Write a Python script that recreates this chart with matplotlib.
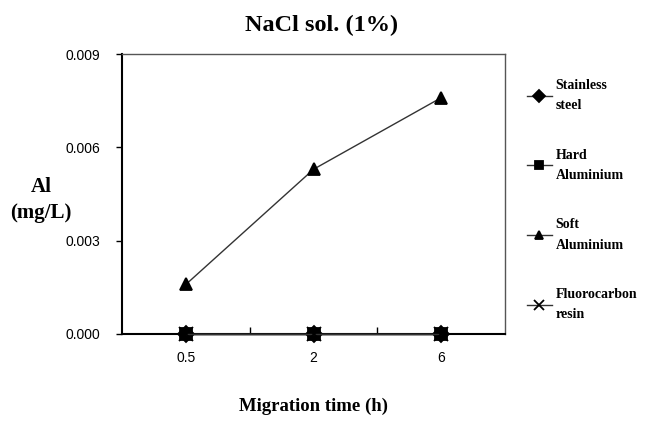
import matplotlib
matplotlib.use("Agg")
import matplotlib.pyplot as plt

# dados
tempos = ["0.5", "2", "6"]
series = ["Stainless\nsteel", "Hard\nAluminium", "Soft\nAluminium", "Fluorocarbon\nresin"]
inox = [0.0, 0.0, 0.0]
aluminio_duro = [0.0, 0.0, 0.0]
aluminio_macio = [0.0016, 0.0053, 0.0076]
fluorocarbono = [0.0, 0.0, 0.0]
yticks = [0.000, 0.003, 0.006, 0.009]
ytick_labels = ["0.000", "0.003", "0.006", "0.009"]

marcadores = ["D", "s", "^", "x"]
tamanhos = [8, 8, 8, 10]
valores = [inox, aluminio_duro, aluminio_macio, fluorocarbono]

serif = ["Liberation Serif", "DejaVu Serif"]

fig = plt.figure(figsize=(6.48, 4.21), dpi=100)
ax = fig.add_axes([0.189, 0.207, 0.590, 0.664])

x = list(range(len(tempos)))
for nome, vals, m, ms in zip(series, valores, marcadores, tamanhos):
    ax.plot(x, vals, color="#333333", linewidth=1.0, marker=m, markersize=ms,
            markerfacecolor="black", markeredgecolor="black", markeredgewidth=1.3,
            label=nome, clip_on=False, zorder=3)

ax.set_xlim(-0.5, len(tempos) - 0.5)
ax.set_ylim(0, 0.009)
ax.set_yticks(yticks)
ax.set_yticklabels(ytick_labels, fontsize=10, family="Liberation Sans")
ax.set_xticks(x)
ax.set_xticklabels(tempos, fontsize=10, family="Liberation Sans")
ax.set_xticks([0.5, 1.5], minor=True)
ax.tick_params(axis="x", which="major", length=0, pad=12)
ax.tick_params(axis="x", which="minor", direction="in", length=5, width=1)
ax.tick_params(axis="y", direction="out", length=4, width=1, pad=12)

for lado in ["left", "bottom"]:
    ax.spines[lado].set_linewidth(1.5)
    ax.spines[lado].set_color("black")
for lado in ["top", "right"]:
    ax.spines[lado].set_linewidth(1.0)
    ax.spines[lado].set_color("#555555")

fig.text(0.497, 0.94, "NaCl sol. (1%)", ha="center", va="center",
         fontsize=17.5, fontweight="bold", family=serif)
ax.set_xlabel("Migration time (h)", fontsize=13.5, fontweight="bold", family=serif, labelpad=24)
fig.text(0.063, 0.525, "Al\n(mg/L)", ha="center", va="center", fontsize=15,
         fontweight="bold", family=serif, linespacing=1.35)

leg = ax.legend(loc="upper left", bbox_to_anchor=(520 / 648, 1 - 72 / 421),
                bbox_transform=fig.transFigure, frameon=False, borderpad=0,
                handlelength=1.8, handletextpad=0.25, labelspacing=2.6,
                markerscale=0.75,
                prop={"family": serif, "weight": "bold", "size": 10})
for t in leg.get_texts():
    t.set_linespacing(1.75)

fig.savefig("out.png", dpi=100)
